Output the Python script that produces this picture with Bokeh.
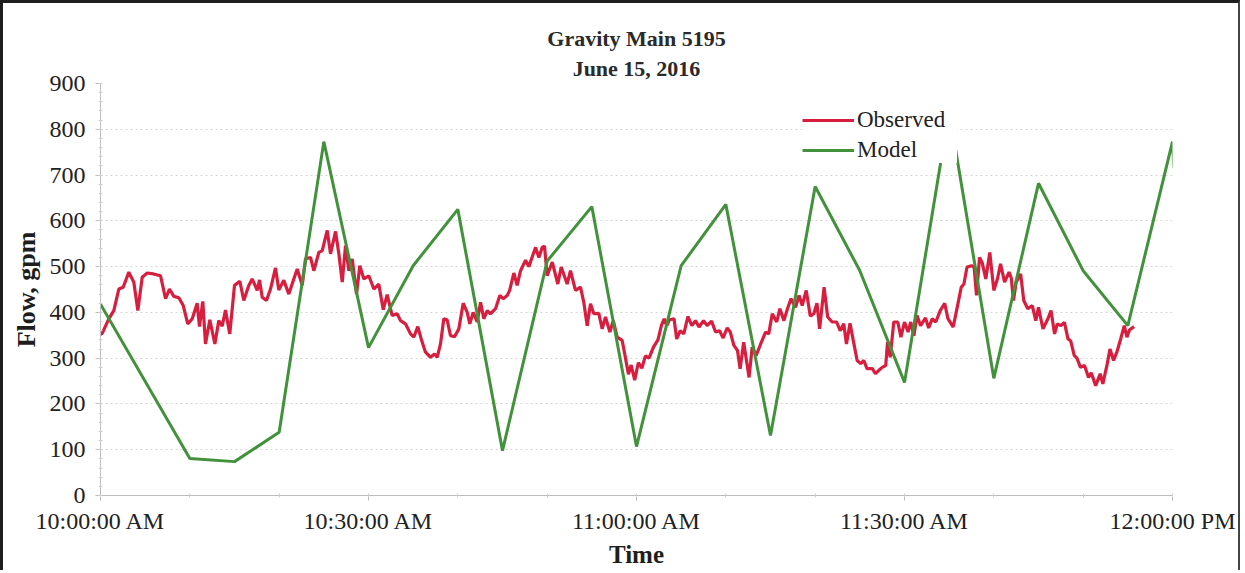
from bokeh.plotting import figure
from bokeh.models import ColumnDataSource, FixedTicker, Legend, LegendItem, Title
from bokeh.embed import file_html
from bokeh.resources import INLINE

# ---- data (minutes after 10:00:00 AM, flow in gpm) ----
model_min = [0, 10, 15, 20, 25, 30, 35, 40, 45, 50, 55, 60, 65, 70, 75, 80, 85, 90,
             95, 100, 105, 110, 115, 120, 120.15]
model_flow = [418, 81, 74, 138, 773, 323, 502, 625, 98, 512, 631, 107, 502, 636, 131, 675,
              491, 247, 840, 256, 682, 491, 371, 773, 715]

obs_min = [0.0, 0.19, 0.93, 1.49, 2.05, 2.54, 3.17, 3.73, 4.18, 4.67, 5.23, 5.93, 6.72, 7.28,
           7.72, 8.21, 8.77, 9.26, 9.77, 10.27, 10.82, 11.08, 11.45, 11.75, 12.24, 12.8,
           13.24, 13.62, 13.99, 14.47, 15.0, 15.6, 16.04, 16.6, 16.98, 17.54, 17.8, 18.1,
           18.58, 19.03, 19.59, 19.96, 20.52, 21.08, 21.64, 22.02, 22.58, 22.95, 23.51,
           23.88, 24.44, 24.82, 25.38, 25.75, 26.31, 26.68, 27.06, 27.43, 27.8, 28.18,
           28.66, 29.03, 29.48, 30.03, 30.6, 31.15, 31.65, 32.09, 32.65, 33.21, 33.58,
           34.14, 34.7, 35.07, 35.52, 35.9, 36.38, 36.94, 37.39, 37.69, 38.06, 38.43, 38.8,
           39.18, 39.63, 40.11, 40.6, 41.05, 41.34, 41.72, 42.17, 42.54, 42.91, 43.29,
           43.65, 44.22, 44.7, 45.07, 45.53, 45.8, 46.27, 46.64, 47.02, 47.58, 47.95, 48.7,
           49.07, 49.45, 49.7, 50.0, 50.57, 51.19, 51.57, 52.24, 52.61, 53.17, 53.73, 54.1,
           54.48, 54.85, 55.22, 55.78, 56.16, 56.53, 57.02, 57.4, 57.83, 58.39, 58.77, 59.1,
           59.4, 59.8, 60.2, 60.6, 61.0, 61.4, 61.9, 62.4, 62.8, 63.1, 63.4, 63.7, 64.2,
           64.5, 64.9, 65.3, 65.75, 66.2, 66.6, 67.0, 67.5, 67.9, 68.4, 68.85, 69.3, 69.7,
           70.15, 70.5, 70.9, 71.3, 71.6, 72.0, 72.6, 72.95, 73.4, 73.9, 74.45, 74.8, 75.2,
           75.7, 76.05, 76.5, 76.9, 77.3, 77.8, 78.2, 78.55, 79.0, 79.45, 79.85, 80.2, 80.5,
           81.0, 81.4, 81.9, 82.4, 82.8, 83.2, 83.5, 83.9, 84.3, 84.7, 85.1, 85.45, 85.8,
           86.4, 86.75, 87.1, 87.5, 87.9, 88.1, 88.4, 88.8, 89.25, 89.6, 90.0, 90.4, 90.7,
           91.05, 91.4, 91.8, 92.35, 92.7, 93.1, 93.5, 94.0, 94.5, 94.85, 95.45, 95.9,
           96.35, 96.65, 97.0, 97.5, 97.8, 98.06, 98.4, 98.7, 99.1, 99.55, 100.0, 100.4,
           100.75, 101.2, 101.7, 101.95, 102.2, 102.5, 103.0, 103.35, 103.8, 104.3, 104.7,
           105.0, 105.5, 106.05, 106.4, 106.8, 107.1, 107.5, 107.9, 108.3, 108.6, 109.0,
           109.3, 109.7, 110.15, 110.6, 110.9, 111.4, 111.9, 112.2, 112.7, 113.0, 113.4,
           113.8, 114.2, 114.6, 114.9, 115.2, 115.7]
obs_flow = [352, 354, 386, 404, 451, 455, 488, 466, 404, 477, 486, 484, 480, 430,
            451, 435, 432, 415, 375, 386, 420, 369, 424, 331, 384, 331,
            382, 370, 405, 353, 459, 468, 426, 459, 473, 448, 471, 433,
            426, 451, 497, 449, 470, 440, 473, 495, 459, 517, 520,
            491, 531, 535, 579, 528, 577, 528, 466, 546, 491, 517,
            440, 502, 473, 480, 451, 462, 406, 439, 393, 397, 382,
            375, 353, 346, 369, 342, 313, 302, 309, 302, 331, 386, 384,
            349, 347, 364, 420, 400, 375, 400, 379, 422, 386, 404,
            397, 408, 437, 430, 437, 448, 486, 459, 491, 514, 500, 542,
            520, 542, 545, 480, 510, 462, 499, 462, 491, 448, 455, 422,
            371, 419, 397, 398, 364, 390, 357, 382, 346, 339, 300, 265,
            285, 252, 290, 278, 305, 300, 324, 340, 372, 386, 371, 384, 386,
            342, 360, 353, 391, 371, 382, 368, 382, 371, 381, 357, 360, 344,
            366, 357, 328, 317, 277, 335, 258, 324, 306, 331, 357, 353, 397,
            379, 408, 382, 408, 430, 411, 437, 415, 448, 392, 397, 420, 364,
            455, 390, 379, 379, 360, 375, 331, 376, 335, 295, 288, 295, 277,
            277, 266, 273, 280, 284, 335, 302, 379, 379, 346, 379, 357, 379,
            349, 393, 371, 388, 366, 386, 379, 404, 420, 387, 368, 411,
            455, 462, 499, 502, 498, 437, 520, 508, 473, 531, 448, 473,
            506, 466, 488, 475, 426, 466, 484, 426, 408, 415, 382,
            411, 364, 386, 404, 353, 375, 371, 378, 342, 338, 306,
            300, 280, 284, 258, 268, 240, 266, 244, 288, 320, 295,
            315, 342, 371, 346, 362, 369]

x_ticks = [0, 30, 60, 90, 120]
x_tick_labels = ["10:00:00 AM", "10:30:00 AM", "11:00:00 AM", "11:30:00 AM", "12:00:00 PM"]
y_ticks = [0, 100, 200, 300, 400, 500, 600, 700, 800, 900]

SERIF = "Liberation Serif"
RED = "#d81e3e"
GREEN = "#42913b"

p = figure(width=1240, height=570, x_range=(0, 120), y_range=(0, 900),
           output_backend="svg", toolbar_location=None,
           min_border_left=97, min_border_right=71, min_border_top=80, min_border_bottom=78)
p.styles = {"border-top": "3px solid #1e1e1e", "border-left": "3px solid #1e1e1e",
            "border-right": "2px solid #444444"}

obs_src = ColumnDataSource(dict(t=obs_min, v=obs_flow))
mod_src = ColumnDataSource(dict(t=model_min, v=model_flow))
r_obs = p.line("t", "v", source=obs_src, line_color=RED, line_width=3.2)
r_mod = p.line("t", "v", source=mod_src, line_color=GREEN, line_width=3)

# titles
p.add_layout(Title(text="June 15, 2016", align="center", text_font=SERIF,
                   text_font_size="22px", text_font_style="bold", text_color="#2a2a2a",
                   standoff=5), "above")
p.add_layout(Title(text="Gravity Main 5195", align="center", text_font=SERIF,
                   text_font_size="22px", text_font_style="bold", text_color="#2a2a2a",
                   standoff=2), "above")

# axes
p.xaxis.ticker = FixedTicker(ticks=x_ticks, minor_ticks=list(range(0, 121, 10)))
p.xaxis.major_label_overrides = {t: l for t, l in zip(x_ticks, x_tick_labels)}
p.yaxis.ticker = FixedTicker(ticks=y_ticks, minor_ticks=list(range(0, 901, 20)))
for ax in (p.xaxis[0], p.yaxis[0]):
    ax.axis_line_color = "#bdbdbd"
    ax.major_tick_line_color = "#bdbdbd"
    ax.minor_tick_line_color = "#cfcfcf"
    ax.major_tick_in = 0
    ax.major_tick_out = 5
    ax.minor_tick_in = 2
    ax.minor_tick_out = 2
    ax.major_label_text_font = SERIF
    ax.major_label_text_font_size = "24px"
    ax.major_label_text_color = "#222222"
    ax.axis_label_text_font = SERIF
    ax.axis_label_text_font_style = "bold"
    ax.axis_label_text_color = "#1e1e1e"
p.xaxis.major_label_standoff = 7
p.yaxis.major_label_standoff = 10
p.xaxis.axis_label = "Time"
p.xaxis.axis_label_text_font_size = "25px"
p.xaxis.axis_label_standoff = 4
p.yaxis.axis_label = "Flow, gpm"
p.yaxis.axis_label_text_font_size = "26px"
p.yaxis.axis_label_standoff = 6

p.xgrid.grid_line_color = None
p.ygrid.grid_line_color = "#d6d6d6"
p.ygrid.grid_line_dash = "2 3"
p.ygrid.grid_line_width = 1
p.outline_line_color = None

legend = Legend(items=[LegendItem(label="Observed", renderers=[r_obs]),
                       LegendItem(label="Model", renderers=[r_mod])],
                location=(702, 332), orientation="vertical",
                label_text_font=SERIF, label_text_font_size="23px",
                label_text_color="#222222",
                glyph_width=52, glyph_height=26, label_height=26, label_width=100,
                label_standoff=3, spacing=4, padding=3, margin=0,
                border_line_color=None, background_fill_color="white",
                background_fill_alpha=1.0)
p.add_layout(legend)

open("out.html", "w").write(file_html(p, INLINE))
